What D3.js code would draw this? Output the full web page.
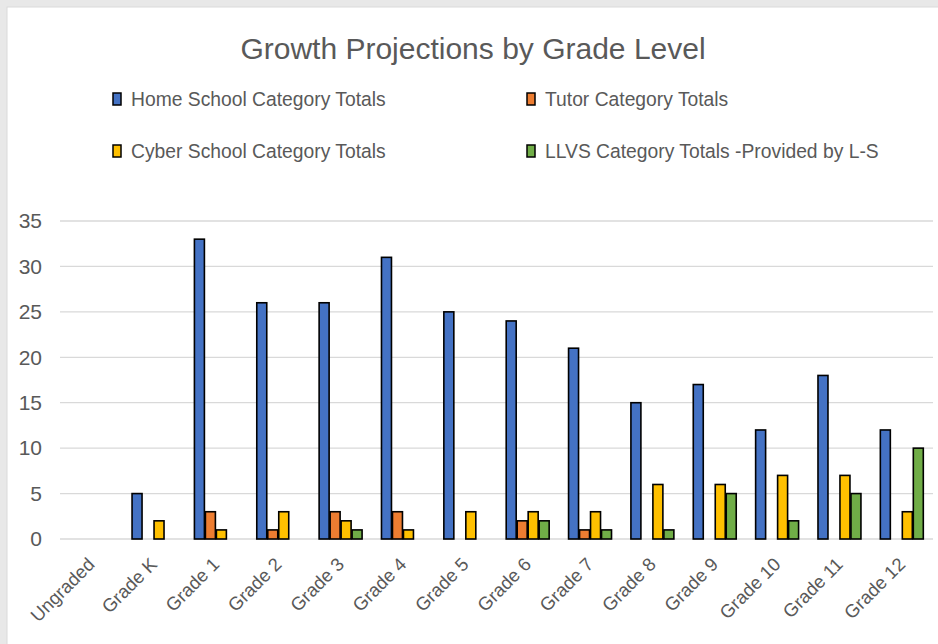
<!DOCTYPE html>
<html><head><meta charset="utf-8">
<script src="https://cdn.jsdelivr.net/npm/d3@7"></script>
<style>body{margin:0;background:#fff}svg{display:block}</style>
</head><body>
<svg id="c" width="938" height="644"></svg>
<script>
const categories = ["Ungraded","Grade K","Grade 1","Grade 2","Grade 3","Grade 4","Grade 5","Grade 6","Grade 7","Grade 8","Grade 9","Grade 10","Grade 11","Grade 12"];
const seriesNames = ["Home School Category Totals","Tutor Category Totals","Cyber School Category Totals","LLVS Category Totals -Provided by L-S"];
const homeSchool = [0,5,33,26,26,31,25,24,21,15,17,12,18,12];
const tutor      = [0,0,3,1,3,3,0,2,1,0,0,0,0,0];
const cyber      = [0,2,1,3,2,1,3,3,3,6,6,7,7,3];
const llvs       = [0,0,0,0,1,0,0,2,1,1,5,2,5,10];
const yTicks = [0,5,10,15,20,25,30,35];
const colors = ["#4472C4","#ED7D31","#FFC000","#70AD47"];

(function(){
const seriesValues = [homeSchool, tutor, cyber, llvs];
const font = "'Liberation Sans',Arial,sans-serif";
const svg = d3.select("#c");

svg.append("rect").attr("x",0).attr("y",0).attr("width",938).attr("height",644).attr("fill","#e8e8e8");
svg.append("rect").attr("x",7).attr("y",7).attr("width",940).attr("height",650).attr("fill","#fff").attr("stroke","#d9d9d9").attr("stroke-width",1);

const pl = 60, pr = 933, pt = 221, pb = 539;
const x0 = d3.scaleBand().domain(categories).range([pl,pr]).paddingInner(0.295).paddingOuter(0.1475);
const x1 = d3.scaleBand().domain(d3.range(4)).range([0,x0.bandwidth()]);
const y = d3.scaleLinear().domain([0,35]).range([pb,pt]);

svg.append("g").selectAll("line").data(yTicks).join("line")
  .attr("x1",pl).attr("x2",pr).attr("y1",d=>y(d)).attr("y2",d=>y(d))
  .attr("stroke","#d9d9d9").attr("stroke-width",1.3);

const yAxis = d3.axisLeft(y).tickValues(yTicks).tickSize(0).tickPadding(0);
const gy = svg.append("g").attr("transform",`translate(${pl-18},0)`).call(yAxis);
gy.select(".domain").remove();
gy.selectAll("text").attr("font-family",font).attr("font-size",21).attr("fill","#595959");

const g = svg.append("g");
categories.forEach((c,i)=>{
  seriesValues.forEach((vals,s)=>{
    const v = vals[i];
    if(v<=0) return;
    g.append("rect")
      .attr("x",x0(c)+x1(s)+0.5)
      .attr("y",y(v))
      .attr("width",x1.bandwidth()-1)
      .attr("height",y(0)-y(v))
      .attr("fill",colors[s]).attr("stroke","#000").attr("stroke-width",1.6);
  });
});

const xAxis = d3.axisBottom(x0).tickSize(0).tickPadding(0);
const gx = svg.append("g").attr("transform",`translate(0,${pb+14})`).call(xAxis);
gx.select(".domain").remove();
gx.selectAll("text").attr("font-family",font).attr("font-size",18.5).attr("fill","#595959")
  .attr("text-anchor","end").attr("dy","0.35em").attr("transform","translate(0,8) rotate(-45)");

svg.append("text").attr("x",473).attr("y",59).attr("text-anchor","middle")
  .attr("font-family",font).attr("font-size",30).attr("fill","#595959").text("Growth Projections by Grade Level");

const legendPos = [[113,99],[527,99],[113,151],[527,151]];
seriesNames.forEach((n,i)=>{
  const [lx,ly] = legendPos[i];
  svg.append("rect").attr("x",lx).attr("y",ly-6).attr("width",8).attr("height",12)
    .attr("fill",colors[i]).attr("stroke","#000").attr("stroke-width",1.5);
  svg.append("text").attr("x",lx+18).attr("y",ly).attr("dy","0.35em")
    .attr("font-family",font).attr("font-size",19.3).attr("fill","#595959").text(n);
});
})();
</script>
</body></html>
